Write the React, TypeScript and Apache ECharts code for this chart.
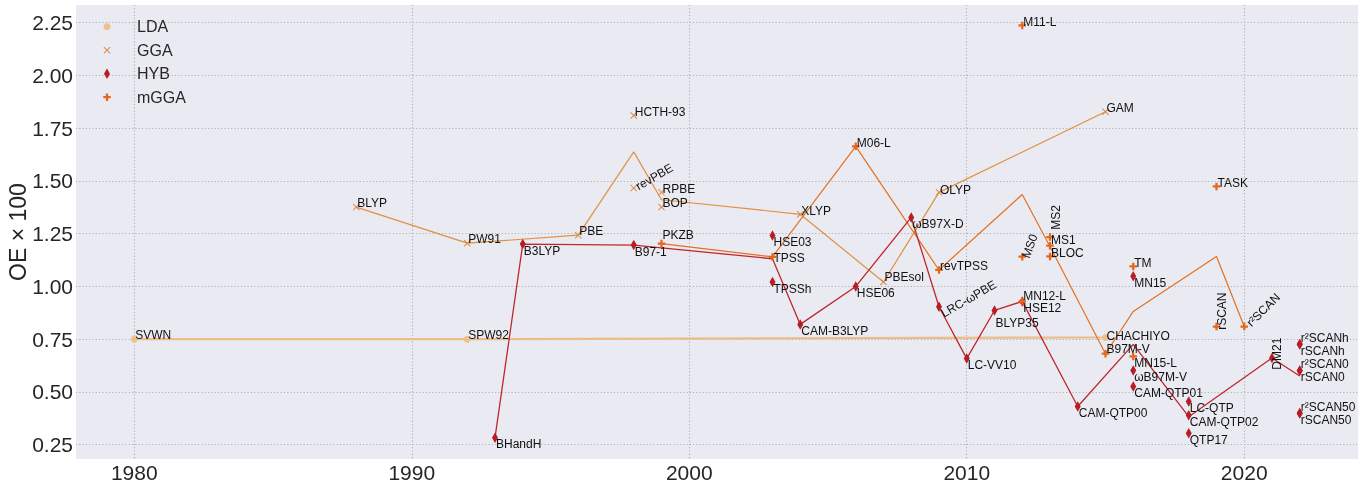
import React, { useEffect, useRef } from 'react';
import * as echarts from 'echarts';

// ---------------- data ----------------
const ldaNames = ['SVWN', 'SPW92', 'CHACHIYO'];
const ldaYears = [1980, 1992, 2015];
const ldaValues = [0.75, 0.75, 0.758];

const ggaNames = ['BLYP', 'PW91', 'PBE', 'HCTH-93', 'revPBE', 'RPBE', 'BOP', 'XLYP', 'PBEsol', 'OLYP', 'GAM'];
const ggaYears = [1988, 1992, 1996, 1998, 1998, 1999, 1999, 2004, 2007, 2009, 2015];
const ggaValues = [1.376, 1.205, 1.243, 1.81, 1.466, 1.446, 1.376, 1.342, 1.021, 1.446, 1.828];

const hybNames = ['BHandH', 'B3LYP', 'B97-1', 'HSE03', 'TPSSh', 'CAM-B3LYP', 'HSE06', 'ωB97X-D', 'LRC-ωPBE', 'LC-VV10', 'BLYP35', 'HSE12', 'CAM-QTP00', 'MN15', 'ωB97M-V', 'CAM-QTP01', 'LC-QTP', 'CAM-QTP02', 'QTP17', 'DM21', 'r²SCANh', 'rSCANh', 'r²SCAN0', 'rSCAN0', 'r²SCAN50', 'rSCAN50'];
const hybYears = [1993, 1994, 1998, 2003, 2003, 2004, 2006, 2008, 2009, 2010, 2011, 2012, 2014, 2016, 2016, 2016, 2018, 2018, 2018, 2021, 2022, 2022, 2022, 2022, 2022, 2022];
const hybValues = [0.283, 1.201, 1.196, 1.241, 1.021, 0.82, 1.0, 1.327, 0.904, 0.658, 0.886, 0.929, 0.431, 1.048, 0.602, 0.526, 0.455, 0.389, 0.304, 0.661, 0.727, 0.725, 0.602, 0.6, 0.4, 0.398];

const mggaNames = ['PKZB', 'TPSS', 'M06-L', 'revTPSS', 'M11-L', 'MS0', 'MN12-L', 'MS1', 'MS2', 'BLOC', 'B97M-V', 'TM', 'MN15-L', 'TASK', 'rSCAN', 'r²SCAN'];
const mggaYears = [1999, 2003, 2006, 2009, 2012, 2012, 2012, 2013, 2013, 2013, 2015, 2016, 2016, 2019, 2019, 2020];
const mggaValues = [1.203, 1.14, 1.664, 1.078, 2.237, 1.141, 0.929, 1.234, 1.193, 1.142, 0.681, 1.095, 0.668, 1.474, 0.81, 0.81];

const xTicks = [1980, 1990, 2000, 2010, 2020];
const yTicks = [0.25, 0.5, 0.75, 1.0, 1.25, 1.5, 1.75, 2.0, 2.25];

// ---------------- styles ----------------
const FONT = '"Liberation Sans", Arial, sans-serif';
const TEXT = '#262626';

// label placement: [dx, dy, rotate] from marker centre to label left-middle
const ABOVE = [1, -3.7, 0];
const BELOW = [1, 6.7, 0];
const labelLayout: Record<string, number[]> = {
  CHACHIYO: [1, -1, 0],
  revPBE: [3, -1, 30],
  PBEsol: [1, -5.3, 0],
  OLYP: [1, -2.7, 0],
  BHandH: BELOW, B3LYP: BELOW, 'B97-1': BELOW, HSE03: BELOW, TPSSh: BELOW,
  'CAM-B3LYP': BELOW, HSE06: BELOW, 'ωB97X-D': BELOW,
  'LRC-ωPBE': [3, 7.5, 30],
  'LC-VV10': BELOW,
  BLYP35: [1, 12.6, 0],
  HSE12: [1, 6.3, 0],
  'CAM-QTP00': BELOW, MN15: BELOW, 'ωB97M-V': BELOW, 'CAM-QTP01': BELOW,
  'LC-QTP': BELOW, 'CAM-QTP02': BELOW, QTP17: BELOW,
  DM21: [5, 11.7, 90],
  'r²SCANh': [1, -6, 0], rSCANh: [1, 6.7, 0],
  'r²SCAN0': [1, -6.4, 0], rSCAN0: [1, 6, 0],
  'r²SCAN50': [1, -6, 0], rSCAN50: [1, 6.7, 0],
  PKZB: [1, -9, 0],
  TPSS: [1, 1, 0],
  MS0: [3.4, 1, 70],
  'MN12-L': [1, -5.4, 0],
  MS1: [1, 2.7, 0],
  MS2: [5.7, -16, 90],
  BLOC: [1, -3.4, 0],
  'B97M-V': [1, -4.3, 0],
  'MN15-L': BELOW,
  rSCAN: [5.2, 3.3, 90],
  'r²SCAN': [4.5, -2, 45],
};

const X_PTS = [[0, 2], [2, 0], [10, 8], [18, 0], [20, 2], [12, 10], [20, 18], [18, 20], [10, 12], [2, 20], [0, 18], [8, 10]];
const PLUS_PTS = [[3.5, 0], [6.5, 0], [6.5, 3.5], [10, 3.5], [10, 6.5], [6.5, 6.5], [6.5, 10], [3.5, 10], [3.5, 6.5], [0, 6.5], [0, 3.5], [3.5, 3.5]];
const DIAMOND_PTS = [[5, 0], [10, 10], [5, 20], [0, 10]];
const CIRCLE_PTS = Array.from({ length: 28 }, (_, i) => {
  const a = (i / 28) * Math.PI * 2;
  return [10 + 10 * Math.cos(a), 10 + 10 * Math.sin(a)];
});

function poly(pts: number[][], sx: number, sy: number, ox: number, oy: number) {
  return pts.map((p, i) => (i ? 'L' : 'M') + (p[0] * sx + ox).toFixed(3) + ',' + (p[1] * sy + oy).toFixed(3)).join(' ') + ' Z';
}
// legend icons drawn in a 50x12 box (phantom corners fix the box)
const BOX = 'M0,0 L0.01,0 M50,12 L49.99,12 ';
function legendIcon(pts: number[][], w: number, h: number, bw: number, bh: number) {
  return 'path://' + BOX + poly(pts, w / bw, h / bh, 25 - w / 2, 6 - h / 2);
}

const COLORS = {
  LDA: '#efc08e', LDAline: '#ecbd8a',
  GGA: '#dc8a40', GGAline: '#e0913f',
  HYB: '#b81c25', HYBline: '#c0262e',
  mGGA: '#e4681c', mGGAline: '#e5711f',
};

function yearlyMeans(years: number[], values: number[]) {
  const m = new Map<number, number[]>();
  years.forEach((y, i) => {
    if (!m.has(y)) m.set(y, []);
    m.get(y)!.push(values[i]);
  });
  return Array.from(m.keys()).sort((a, b) => a - b).map((y) => {
    const v = m.get(y)!;
    return [y, v.reduce((s, x) => s + x, 0) / v.length];
  });
}

function scatter(name: string, names: string[], years: number[], values: number[], symbol: string, size: number[], color: string) {
  return {
    type: 'scatter',
    name,
    symbol,
    symbolSize: size,
    itemStyle: { color, opacity: 1 },
    z: 4,
    label: {
      show: true,
      formatter: '{b}',
      fontSize: 12,
      fontFamily: FONT,
      color: '#111',
    },
    data: names.map((n, i) => {
      const [dx, dy, rot] = labelLayout[n] ?? ABOVE;
      return {
        name: n,
        value: [years[i], values[i]],
        label: {
          position: [size[0] / 2 + dx, size[1] / 2 + dy],
          rotate: rot,
          align: 'left',
          verticalAlign: 'middle',
        },
      };
    }),
  };
}

function meanLine(name: string, years: number[], values: number[], color: string, width: number) {
  return {
    type: 'line',
    name,
    data: yearlyMeans(years, values),
    showSymbol: false,
    symbol: 'none',
    silent: true,
    z: 2,
    lineStyle: { color, width },
  };
}

export default function App() {
  const ref = useRef<HTMLDivElement>(null);
  useEffect(() => {
    const chart = echarts.init(ref.current!, null, { renderer: 'svg' });
    const axisCommon = {
      type: 'value',
      axisLine: { show: false },
      splitLine: { show: true, lineStyle: { color: '#adadad', width: 1.1, type: [1.1, 2.2] } },
    };
    chart.setOption({
      animation: false,
      grid: {
        left: 76, right: 9, top: 5, bottom: 24,
        show: true, backgroundColor: '#eaeaf2', borderWidth: 0,
        containLabel: false, outerBoundsMode: 'none',
      },
      xAxis: {
        ...axisCommon,
        min: 1977.9,
        max: 2024.1,
        axisTick: { show: false, customValues: xTicks },
        axisLabel: { customValues: xTicks, fontSize: 21, color: TEXT, fontFamily: FONT, margin: 3, formatter: (v: number) => String(v) },
      },
      yAxis: {
        ...axisCommon,
        min: 0.182,
        max: 2.334,
        axisTick: { show: false, customValues: yTicks },
        axisLabel: { customValues: yTicks, fontSize: 21, color: TEXT, fontFamily: FONT, margin: 3, formatter: (v: number) => v.toFixed(2) },
        name: 'OE × 100',
        nameLocation: 'middle',
        nameRotate: 90,
        nameGap: 47,
        nameMoveOverlap: false,
        nameTextStyle: { fontSize: 23, color: TEXT, fontFamily: FONT },
      },
      legend: {
        orient: 'vertical',
        left: 82,
        top: 18.7,
        padding: 0,
        itemWidth: 50,
        itemHeight: 12,
        itemGap: 7.5,
        selectedMode: false,
        textStyle: { fontSize: 16, color: TEXT, fontFamily: FONT },
        data: [
          { name: 'LDA', icon: legendIcon(CIRCLE_PTS, 7, 7, 20, 20) },
          { name: 'GGA', icon: legendIcon(X_PTS, 7, 7, 20, 20) },
          { name: 'HYB', icon: legendIcon(DIAMOND_PTS, 6, 10.5, 10, 20) },
          { name: 'mGGA', icon: legendIcon(PLUS_PTS, 7.5, 7.5, 10, 10) },
        ],
      },
      series: [
        meanLine('LDA line', ldaYears, ldaValues, COLORS.LDAline, 2.2),
        meanLine('GGA line', ggaYears, ggaValues, COLORS.GGAline, 1.2),
        meanLine('mGGA line', mggaYears, mggaValues, COLORS.mGGAline, 1.2),
        meanLine('HYB line', hybYears, hybValues, COLORS.HYBline, 1.3),
        scatter('LDA', ldaNames, ldaYears, ldaValues, 'circle', [7, 7], COLORS.LDA),
        scatter('GGA', ggaNames, ggaYears, ggaValues, 'path://' + poly(X_PTS, 1, 1, 0, 0), [7, 7], COLORS.GGA),
        scatter('HYB', hybNames, hybYears, hybValues, 'path://' + poly(DIAMOND_PTS, 1, 1, 0, 0), [6, 10.5], COLORS.HYB),
        scatter('mGGA', mggaNames, mggaYears, mggaValues, 'path://' + poly(PLUS_PTS, 1, 1, 0, 0), [7.5, 7.5], COLORS.mGGA),
      ],
    });
    return () => chart.dispose();
  }, []);
  return <div ref={ref} style={{ position: 'fixed', left: 0, top: 0, width: 1367, height: 483 }} />;
}
